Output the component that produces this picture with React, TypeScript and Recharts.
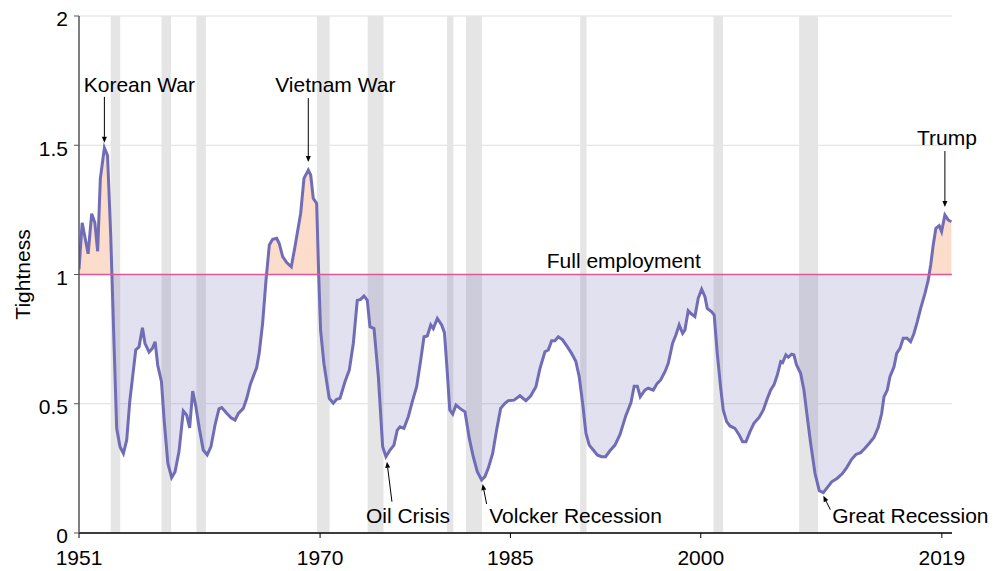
import {
  ComposedChart,
  Area,
  XAxis,
  YAxis,
  CartesianGrid,
  ReferenceArea,
  ReferenceLine,
  ReferenceDot,
  Label,
} from 'recharts';

// labour market tightness
const YEARS = [
  1951.0, 1951.25, 1951.72, 1952.0, 1952.25, 1952.47, 1952.68, 1953.0, 1953.25, 1953.5,
  1953.78, 1953.97, 1954.23, 1954.5, 1954.76, 1955.0, 1955.47, 1955.73, 1956.0, 1956.2,
  1956.52, 1956.78, 1957.0, 1957.2, 1957.5, 1957.72, 1958.0, 1958.3, 1958.57, 1958.88,
  1959.22, 1959.49, 1959.72, 1959.96, 1960.19, 1960.48, 1960.79, 1961.1, 1961.4, 1961.72,
  1962.03, 1962.25, 1962.64, 1962.98, 1963.3, 1963.56, 1963.95, 1964.22, 1964.5, 1965.0,
  1965.2, 1965.47, 1965.74, 1966.0, 1966.26, 1966.58, 1966.78, 1967.05, 1967.37, 1967.73,
  1968.02, 1968.47, 1968.73, 1969.07, 1969.26, 1969.46, 1969.73, 1969.89, 1970.04, 1970.3,
  1970.72, 1971.04, 1971.3, 1971.57, 1971.96, 1972.3, 1972.62, 1972.93, 1973.2, 1973.46,
  1973.72, 1973.93, 1974.25, 1974.59, 1974.93, 1975.19, 1975.51, 1975.82, 1976.08, 1976.3,
  1976.61, 1976.95, 1977.3, 1977.61, 1977.93, 1978.19, 1978.45, 1978.72, 1978.92, 1979.24,
  1979.58, 1979.8, 1980.02, 1980.22, 1980.45, 1980.71, 1981.02, 1981.42, 1981.76, 1982.07,
  1982.39, 1982.73, 1982.99, 1983.25, 1983.6, 1983.91, 1984.23, 1984.57, 1984.83, 1985.28,
  1985.75, 1986.22, 1986.59, 1987.01, 1987.33, 1987.72, 1987.98, 1988.25, 1988.51, 1988.77,
  1989.11, 1989.48, 1989.82, 1990.16, 1990.42, 1990.69, 1990.95, 1991.21, 1991.53, 1991.84,
  1992.18, 1992.5, 1992.84, 1993.24, 1993.63, 1994.1, 1994.5, 1994.75, 1995.0, 1995.23,
  1995.6, 1995.86, 1996.26, 1996.57, 1996.84, 1997.18, 1997.44, 1997.78, 1998.04, 1998.3,
  1998.57, 1998.75, 1999.01, 1999.2, 1999.54, 1999.8, 2000.07, 2000.33, 2000.51, 2000.86,
  2001.06, 2001.3, 2001.56, 2001.77, 2002.04, 2002.3, 2002.69, 2003.03, 2003.3, 2003.56,
  2003.88, 2004.19, 2004.61, 2004.93, 2005.2, 2005.51, 2005.77, 2006.03, 2006.3, 2006.45,
  2006.71, 2006.9, 2007.16, 2007.34, 2007.55, 2007.87, 2008.13, 2008.39, 2008.66, 2009.0,
  2009.34, 2009.66, 2009.92, 2010.32, 2010.76, 2011.18, 2011.54, 2011.89, 2012.23, 2012.6,
  2012.94, 2013.28, 2013.65, 2013.99, 2014.26, 2014.44, 2014.7, 2014.91, 2015.23, 2015.44,
  2015.7, 2015.96, 2016.27, 2016.54, 2016.8, 2017.06, 2017.33, 2017.67, 2017.93, 2018.12,
  2018.32, 2018.53, 2018.79, 2018.98, 2019.24, 2019.5, 2019.75,
];

const TIGHTNESS = [
  1.02, 1.2, 1.08, 1.235, 1.2, 1.09, 1.37, 1.49, 1.46, 1.15,
  0.7, 0.405, 0.334, 0.308, 0.36, 0.508, 0.708, 0.72, 0.794, 0.734,
  0.7, 0.714, 0.74, 0.65, 0.585, 0.43, 0.27, 0.214, 0.237, 0.315,
  0.472, 0.456, 0.407, 0.549, 0.495, 0.405, 0.321, 0.302, 0.334, 0.418,
  0.48, 0.485, 0.463, 0.446, 0.437, 0.463, 0.482, 0.521, 0.575, 0.64,
  0.695, 0.811, 0.979, 1.114, 1.136, 1.14, 1.12, 1.069, 1.046, 1.03,
  1.107, 1.237, 1.372, 1.404, 1.385, 1.295, 1.275, 1.0, 0.785, 0.656,
  0.521, 0.502, 0.517, 0.521, 0.585, 0.63, 0.734, 0.9, 0.904, 0.917,
  0.9, 0.798, 0.791, 0.605, 0.334, 0.295, 0.321, 0.34, 0.398, 0.411,
  0.405, 0.45, 0.514, 0.566, 0.669, 0.759, 0.762, 0.805, 0.791, 0.83,
  0.805, 0.775, 0.625, 0.476, 0.46, 0.495, 0.482, 0.469, 0.366, 0.295,
  0.237, 0.205, 0.218, 0.25, 0.308, 0.398, 0.482, 0.502, 0.512, 0.514,
  0.531, 0.512, 0.53, 0.566, 0.637, 0.701, 0.708, 0.744, 0.744, 0.759,
  0.747, 0.721, 0.695, 0.663, 0.605, 0.502, 0.386, 0.34, 0.321, 0.302,
  0.295, 0.295, 0.318, 0.34, 0.38, 0.455, 0.505, 0.568, 0.568, 0.527,
  0.553, 0.56, 0.553, 0.579, 0.592, 0.624, 0.656, 0.734, 0.766, 0.805,
  0.772, 0.785, 0.86, 0.85, 0.837, 0.908, 0.943, 0.914, 0.869, 0.856,
  0.843, 0.695, 0.566, 0.476, 0.431, 0.414, 0.405, 0.379, 0.353, 0.353,
  0.392, 0.424, 0.448, 0.476, 0.514, 0.553, 0.573, 0.611, 0.663, 0.659,
  0.689, 0.68, 0.692, 0.689, 0.65, 0.618, 0.553, 0.45, 0.347, 0.231,
  0.164, 0.156, 0.173, 0.198, 0.212, 0.231, 0.256, 0.285, 0.304, 0.311,
  0.328, 0.347, 0.37, 0.409, 0.463, 0.527, 0.553, 0.605, 0.643, 0.695,
  0.714, 0.753, 0.753, 0.74, 0.772, 0.817, 0.869, 0.927, 0.979, 1.037,
  1.114, 1.179, 1.189, 1.166, 1.23, 1.211, 1.204,
];

// NBER recessions (shaded)
const RECESSION_STARTS = [1953.5, 1957.5, 1960.25, 1969.75, 1973.75, 1980.0, 1981.5, 1990.5, 2001.0, 2007.75];
const RECESSION_ENDS = [1954.25, 1958.25, 1961.0, 1970.75, 1975.0, 1980.5, 1982.75, 1991.0, 2001.75, 2009.25];

const X_TICKS = [1951, 1970, 1985, 2000, 2019];
const Y_TICKS = [0, 0.5, 1, 1.5, 2];
const FULL_EMPLOYMENT = 1;

const EVENT_LABELS = ['Korean War', 'Vietnam War', 'Oil Crisis', 'Volcker Recession', 'Great Recession', 'Trump'];
const EVENT_YEARS = [1953.0, 1969.07, 1975.19, 1982.73, 2009.66, 2019.24];

const DATA = YEARS.map((year, i) => ({ year, tightness: TIGHTNESS[i] }));

const LINE_COLOR = '#716cb6';
const FONT = '"Liberation Sans", Arial, Helvetica, sans-serif';

// plot box (px)
const TOP = 16;
const PLOT_H = 517;

// where each note sits relative to its point
const EVENT_LAYOUT: Record<string, { tx: number; ty: number; from: [number, number]; to: [number, number] }> = {
  'Korean War': { tx: 35, ty: -56, from: [0, -51], to: [0, -5] },
  'Vietnam War': { tx: 27, ty: -78, from: [0, -72], to: [0, -8] },
  'Oil Crisis': { tx: 22, ty: 66, from: [6, 45], to: [1, 5] },
  'Volcker Recession': { tx: 94, ty: 43, from: [5, 24], to: [1, 4] },
  'Great Recession': { tx: 87, ty: 30, from: [7, 17], to: [0, 3] },
  Trump: { tx: 2, ty: -70, from: [0, -64], to: [0, -8] },
};

const EventNote = ({ cx, cy, text }: any) => {
  const lay = EVENT_LAYOUT[text];
  const x1 = cx + lay.from[0];
  const y1 = cy + lay.from[1];
  const x2 = cx + lay.to[0];
  const y2 = cy + lay.to[1];
  const ang = Math.atan2(y2 - y1, x2 - x1);
  const len = 6;
  const half = 2.5;
  const bx = x2 - len * Math.cos(ang);
  const by = y2 - len * Math.sin(ang);
  const head = `${x2},${y2} ${bx + half * Math.sin(ang)},${by - half * Math.cos(ang)} ${bx - half * Math.sin(ang)},${by + half * Math.cos(ang)}`;
  return (
    <g>
      <line x1={x1} y1={y1} x2={bx} y2={by} stroke="#000" strokeWidth={1} />
      <polygon points={head} fill="#000" />
      <text x={cx + lay.tx} y={cy + lay.ty} textAnchor="middle" fontSize={21} fill="#000" fontFamily={FONT}>
        {text}
      </text>
    </g>
  );
};

const YTitle = ({ viewBox }: any) => {
  const cy = viewBox.y + viewBox.height / 2;
  return (
    <text x={22} y={cy} transform={`rotate(-90, 22, ${cy})`} textAnchor="middle" dominantBaseline="central" fontSize={21} fill="#000" fontFamily={FONT}>
      Tightness
    </text>
  );
};

const FullEmploymentLabel = ({ viewBox }: any) => (
  <text x={viewBox.x + viewBox.width * 0.624} y={viewBox.y - 7} textAnchor="middle" fontSize={21} fill="#000" fontFamily={FONT}>
    Full employment
  </text>
);

export default function App() {
  return (
    <div style={{ position: 'absolute', left: 0, top: 0, width: 995, height: 571, background: '#fff', fontFamily: FONT }}>
      <ComposedChart width={995} height={571} data={DATA} margin={{ top: TOP, right: 43, bottom: 0, left: 0 }}>
        <defs>
          <linearGradient id="tightFill" gradientUnits="userSpaceOnUse" x1={0} y1={TOP} x2={0} y2={TOP + PLOT_H}>
            <stop offset="50%" stopColor="#f08040" stopOpacity={0.27} />
            <stop offset="50%" stopColor="#5a57a8" stopOpacity={0.18} />
          </linearGradient>
        </defs>
        <CartesianGrid vertical={false} stroke="#dedede" strokeWidth={1} />
        {RECESSION_STARTS.map((start, i) => (
          <ReferenceArea key={start} x1={start} x2={RECESSION_ENDS[i]} fill="#e5e5e5" fillOpacity={1} stroke="none" />
        ))}
        <XAxis
          type="number"
          dataKey="year"
          domain={[1951, 2019.8]}
          ticks={X_TICKS}
          allowDataOverflow
          height={38}
          tickSize={5}
          tickMargin={12}
          axisLine={{ stroke: '#000', strokeWidth: 1.5 }}
          tickLine={{ stroke: '#000' }}
          tick={{ fill: '#000', fontSize: 21 }}
        />
        <YAxis
          type="number"
          domain={[0, 2]}
          ticks={Y_TICKS}
          width={79}
          tickSize={5}
          tickMargin={6}
          axisLine={{ stroke: '#555', strokeWidth: 1.5 }}
          tickLine={{ stroke: '#555' }}
          tick={{ fill: '#000', fontSize: 21, dy: 3 }}
        >
          <Label content={<YTitle />} />
        </YAxis>
        <Area
          type="linear"
          dataKey="tightness"
          baseValue={FULL_EMPLOYMENT}
          stroke={LINE_COLOR}
          strokeWidth={3}
          fill="url(#tightFill)"
          fillOpacity={1}
          dot={false}
          activeDot={false}
          isAnimationActive={false}
        />
        <ReferenceLine y={FULL_EMPLOYMENT} stroke="#e0569a" strokeWidth={1.5} label={<FullEmploymentLabel />} />
        {EVENT_LABELS.map((name, i) => (
          <ReferenceDot
            key={name}
            x={EVENT_YEARS[i]}
            y={TIGHTNESS[YEARS.indexOf(EVENT_YEARS[i])]}
            r={0}
            shape={(props: any) => <EventNote {...props} text={name} />}
          />
        ))}
      </ComposedChart>
    </div>
  );
}
